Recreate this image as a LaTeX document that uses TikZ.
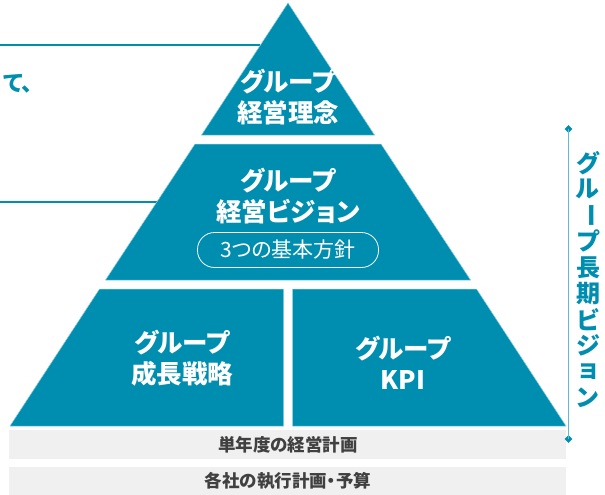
\documentclass[tikz,border=0pt]{standalone}
\usepackage{fontspec}
\setmainfont{Noto Sans CJK JP}[RawFeature=+palt]
\definecolor{teal1}{RGB}{0,142,176}
\definecolor{tealln}{RGB}{95,186,210}
\definecolor{edgec}{RGB}{140,205,222}
\definecolor{barbg}{RGB}{240,240,240}
\definecolor{bartxt}{RGB}{64,64,64}
\tikzset{
  tier/.style={fill=teal1, draw=edgec, line width=0.5pt},
  ptxt/.style={text=white, align=center, inner sep=0pt, font=\bfseries\fontsize{25.5}{31}\selectfont},
  bar/.style={fill=barbg, draw=none},
  bartext/.style={text=bartxt, inner sep=0pt, font=\bfseries\fontsize{17.5}{20}\selectfont},
  vch/.style={text=teal1, inner sep=0pt, font=\bfseries\fontsize{24}{24}\selectfont},
  diam/.style={fill=teal1, draw=none, diamond, inner sep=0pt, minimum size=8pt},
  pill/.style={draw=white, line width=0.8pt, rounded corners=17pt, minimum width=181pt, minimum height=35pt, text=white, inner sep=0pt, font=\fontsize{21}{22}\selectfont},
  leftline/.style={draw=teal1, line width=1.4pt}
}
\usetikzlibrary{shapes.geometric}
\begin{document}
\begin{tikzpicture}[x=1pt,y=-1pt]
\useasboundingbox (0,0) rectangle (605,495);
% left lines and text
\coordinate (l1a) at (0,45);
\coordinate (l1b) at (260,45);
\coordinate (l2a) at (0,202);
\coordinate (l2b) at (157,202);
\draw[leftline] (l1a) -- (l1b);
\draw[leftline] (l2a) -- (l2b);
\node[anchor=west, text=teal1, inner sep=0pt, font=\bfseries\fontsize{22.5}{22}\selectfont] (lt) at (3,84) {て、};
% pyramid tiers
\path[tier] (288,3) -- (374.5,135) -- (201.5,135) -- cycle;
\path[tier] (195,144) -- (381,144) -- (470.5,280) -- (105.5,280) -- cycle;
\path[tier] (99.5,289) -- (283.5,289) -- (283.5,426) -- (10,426) -- cycle;
\path[tier] (292.5,289) -- (476.5,289) -- (566,426) -- (292.5,426) -- cycle;
% tier texts
\node[ptxt] (t1) at (288,97.5) {グループ\\経営理念};
\node[ptxt] (t2) at (288,196) {グループ\\経営ビジョン};
\node[pill] (p3) at (288,250) {3つの基本方針};
\node[ptxt] (t3) at (182,358.5) {グループ\\成長戦略};
\node[ptxt] (t4) at (403,363) {グループ\\KPI};
% gray bars
\path[bar] (9,430) rectangle (566,459);
\path[bar] (9,467) rectangle (566,495);
\node[bartext] (g1) at (288,444.5) {単年度の経営計画};
\node[bartext] (g2) at (288,481) {各社の執行計画・予算};
% right bracket
\node[diam] (d1) at (568.5,129) {};
\node[diam] (d2) at (568.5,439) {};
\draw[tealln, line width=1.2pt] (d1.center) -- (d2.center);
\node[vch] (v1) at (588,163.0) {グ};
\node[vch] (v2) at (588,189.1) {ル};
\node[vch] (v3) at (588,215.2) {\rotatebox{-90}{ー}};
\node[vch] (v4) at (588,241.3) {プ};
\node[vch] (v5) at (588,267.4) {長};
\node[vch] (v6) at (588,293.5) {期};
\node[vch] (v7) at (588,319.6) {ビ};
\node[vch] (v8) at (588,345.7) {ジ};
\node[vch] (v9) at (588,371.8) {ョ};
\node[vch] (v10) at (588,397.9) {ン};
\end{tikzpicture}
\end{document}
